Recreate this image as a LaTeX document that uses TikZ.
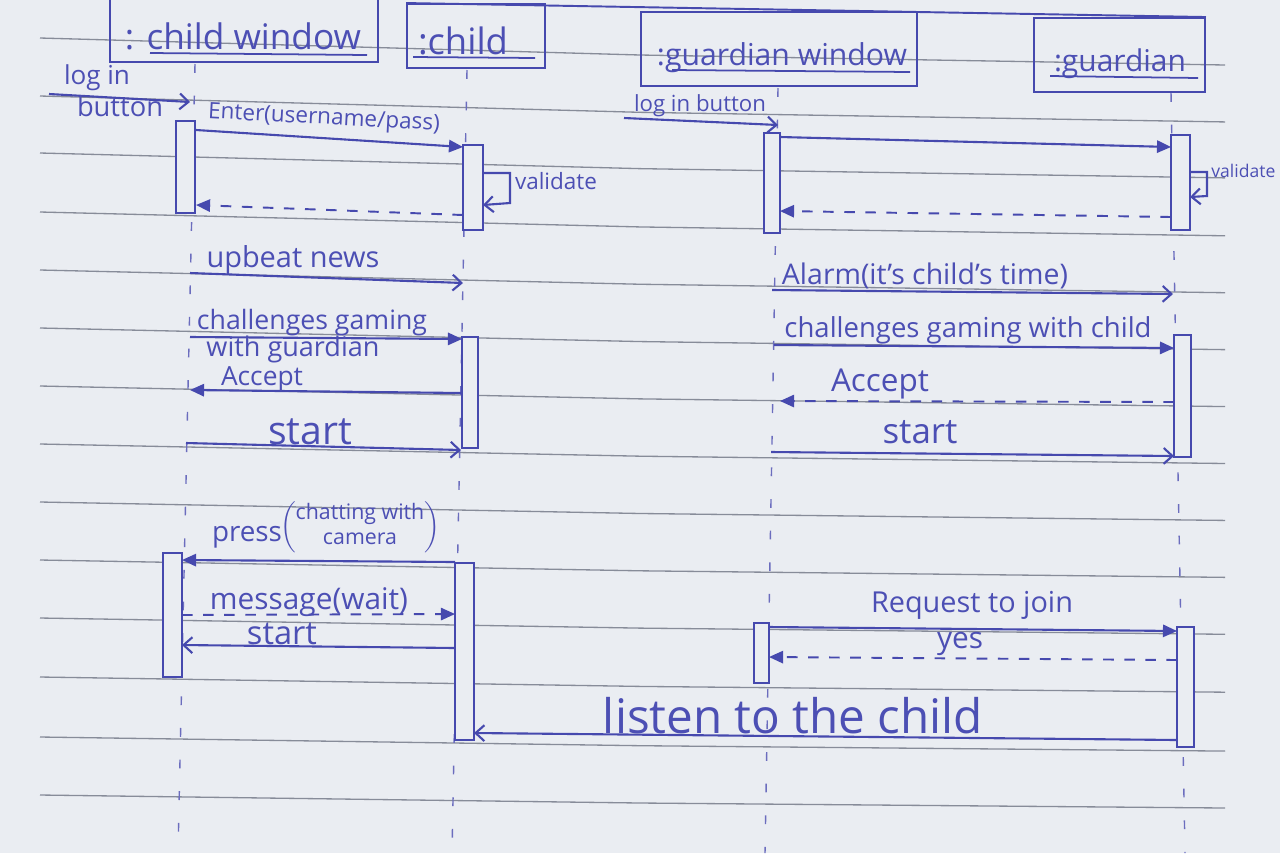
\documentclass[tikz,border=0pt]{standalone}
\usepackage{fontspec}
\setmainfont{Open Sans}
\usepackage{graphicx}
\usetikzlibrary{arrows.meta,fit}
\definecolor{paper}{HTML}{EAEDF2}
\definecolor{ink}{HTML}{4649AE}
\definecolor{inktext}{HTML}{4C4FB4}
\definecolor{ruling}{HTML}{878C99}
% one drawing unit
\newlength\pxu
\setlength\pxu{0.02cm}
% text scaled to a given width in drawing units
\newcommand\wtext[2]{\resizebox{#1\pxu}{!}{#2}}

\begin{document}
\begin{tikzpicture}[x=0.02cm,y=-0.02cm,
  ruled/.style={ruling, line width=0.75pt},
  lifeline/.style={ink!80, line width=0.8pt, dash pattern=on 5pt off 13pt},
  header/.style={draw=ink, line width=1.1pt, inner sep=0pt},
  actbar/.style={draw=ink, fill=paper, line width=1.2pt, inner sep=0pt},
  msg/.style={ink, line width=1.2pt},
  reply/.style={ink, line width=1.1pt, dash pattern=on 6pt off 6pt},
  sync/.style={-{Triangle[length=8pt,width=7pt]}},
  async/.style={-{Straight Barb[length=5pt,width=9pt,line width=1.2pt]}},
  lbl/.style={text=inktext, inner sep=0pt},
]
% paper
\fill[paper] (0,0) rectangle (1280,853);
\useasboundingbox (0,0) rectangle (1280,853);

% ruled lines of the notebook page
\foreach \y in {38,96,153,212,270,328,386,444,502,560,618,677,737,795}{
  \pgfmathsetmacro\t{(\y-38)/757}
  \pgfmathsetmacro\ym{\y+17-9*\t}
  \pgfmathsetmacro\ye{\y+27-14*\t}
  \draw[ruled] (40,\y) -- (640,\ym) -- (1225,\ye);
}

% lifelines
\coordinate (llCWt) at (195,64);  \coordinate (llCWb) at (178,853);
\coordinate (llCt)  at (467,70);  \coordinate (llCb)  at (452,853);
\coordinate (llGWt) at (778,88);  \coordinate (llGWb) at (765,853);
\coordinate (llGt)  at (1171,93); \coordinate (llGb)  at (1185,853);
\draw[lifeline] (llCWt) -- (llCWb);
\draw[lifeline] (llCt) -- (llCb);
\draw[lifeline] (llGWt) -- (llGWb);
\draw[lifeline] (llGt) -- (llGb);

% object headers
\node[header, fit={(110,-10) (378,62)}] (hCW) {};
\node[header, fit={(407,4) (545,68)}] (hC) {};
\node[header, fit={(641,12) (917,86)}] (hGW) {};
\node[header, fit={(1034,18) (1205,92)}] (hG) {};
\draw[msg, line width=1.1pt] (hC.north west) -- (hG.north east);

\node[lbl] (tCW) at (243,36) {\wtext{236}{: child window}};
\node[lbl] (tC)  at (463,41) {\wtext{90}{:child}};
\node[lbl] (tGW) at (782,58) {\wtext{250}{:guardian window}};
\node[lbl] (tG)  at (1120,64) {\wtext{132}{:guardian}};
\draw[msg, line width=1pt] (150,53) -- (367,55);
\draw[msg, line width=1pt] (413,57) -- (535,58);
\draw[msg, line width=1pt] (672,70) -- (910,72);
\draw[msg, line width=1pt] (1050,76) -- (1198,78);

% activation bars
\node[actbar, fit={(176,121) (195,213)}] (aCW1) {};
\node[actbar, fit={(463,145) (483,230)}] (aC1) {};
\node[actbar, fit={(462,337) (478,448)}] (aC2) {};
\node[actbar, fit={(163,553) (182,677)}] (aCW2) {};
\node[actbar, fit={(455,563) (474,740)}] (aC3) {};
\node[actbar, fit={(764,133) (780,233)}] (aGW1) {};
\node[actbar, fit={(1171,135) (1190,230)}] (aG1) {};
\node[actbar, fit={(1174,335) (1191,457)}] (aG2) {};
\node[actbar, fit={(754,623) (769,683)}] (aGW2) {};
\node[actbar, fit={(1177,627) (1194,747)}] (aG3) {};

% ---- child side ----
\coordinate (loginA) at (49,94);   \coordinate (loginB) at (190,102);
\draw[msg, async] (loginA) -- (loginB);
\node[lbl] (lLogin)  at (97,78)  {\wtext{66}{log in}};
\node[lbl] (lButton) at (120,106) {\wtext{86}{button}};

\coordinate (enterA) at (196,130); \coordinate (enterB) at (463,147);
\draw[msg, sync] (enterA) -- (enterB);
\node[lbl, rotate=-3] (lEnter) at (324,119) {\wtext{232}{Enter(username/pass)}};

\coordinate (valA) at (483,173); \coordinate (valB) at (510,173);
\coordinate (valC) at (510,203); \coordinate (valD) at (483,205);
\draw[msg, async] (valA) -- (valB) -- (valC) -- (valD);
\node[lbl] (lVal) at (556,181) {\wtext{82}{validate}};

\coordinate (retA) at (463,215); \coordinate (retB) at (196,205);
\draw[reply, sync] (retA) -- (retB);

\coordinate (newsA) at (190,273); \coordinate (newsB) at (463,283);
\draw[msg, async] (newsA) -- (newsB);
\node[lbl] (lNews) at (293,260) {\wtext{173}{upbeat news}};

\coordinate (chA) at (190,337); \coordinate (chB) at (462,339);
\draw[msg, sync] (chA) -- (chB);
\node[lbl] (lCh1) at (312,323) {\wtext{230}{challenges gaming}};
\node[lbl] (lCh2) at (293,349) {\wtext{173}{with guardian}};

\coordinate (accA) at (462,393); \coordinate (accB) at (190,390);
\draw[msg, sync] (accA) -- (accB);
\node[lbl] (lAcc) at (262,379) {\wtext{82}{Accept}};

\coordinate (stA) at (186,443); \coordinate (stB) at (461,450);
\draw[msg, async] (stA) -- (stB);
\node[lbl] (lSt) at (310,432) {\wtext{84}{start}};

\coordinate (prA) at (455,562); \coordinate (prB) at (182,560);
\draw[msg, sync] (prA) -- (prB);
\node[lbl] (lPress) at (247,537) {\wtext{70}{press}};
\node[lbl] (lPressArg) at (360,527) {\wtext{160}{$\left(\begin{tabular}{@{}c@{}}chatting with\\ camera\end{tabular}\right)$}};

\coordinate (msA) at (182,615); \coordinate (msB) at (455,614);
\draw[reply, sync] (msA) -- (msB);
\node[lbl] (lMsg) at (309,602) {\wtext{198}{message(wait)}};

\coordinate (st2A) at (455,648); \coordinate (st2B) at (182,645);
\draw[msg, async] (st2A) -- (st2B);
\node[lbl] (lSt2) at (282,634) {\wtext{70}{start}};

% ---- guardian side ----
\coordinate (gloginA) at (624,118); \coordinate (gloginB) at (778,125);
\draw[msg, async] (gloginA) -- (gloginB);
\node[lbl] (lGLogin) at (700,106) {\wtext{132}{log in button}};

\coordinate (gcA) at (780,137); \coordinate (gcB) at (1171,147);
\draw[msg, sync] (gcA) -- (gcB);

\coordinate (gvA) at (1190,172); \coordinate (gvB) at (1207,172);
\coordinate (gvC) at (1207,196); \coordinate (gvD) at (1190,197);
\draw[msg, async] (gvA) -- (gvB) -- (gvC) -- (gvD);
\node[lbl, anchor=west] (lGVal) at (1211,171) {\wtext{64}{validate}};

\coordinate (grA) at (1171,217); \coordinate (grB) at (780,211);
\draw[reply, sync] (grA) -- (grB);

\coordinate (alA) at (772,290); \coordinate (alB) at (1173,294);
\draw[msg, async] (alA) -- (alB);
\node[lbl] (lAlarm) at (925,276) {\wtext{286}{Alarm(it's child's time)}};

\coordinate (gchA) at (774,345); \coordinate (gchB) at (1174,348);
\draw[msg, sync] (gchA) -- (gchB);
\node[lbl] (lGCh) at (968,330) {\wtext{367}{challenges gaming with child}};

\coordinate (gacA) at (1174,402); \coordinate (gacB) at (780,401);
\draw[reply, sync] (gacA) -- (gacB);
\node[lbl] (lGAcc) at (880,384) {\wtext{98}{Accept}};

\coordinate (gstA) at (771,452); \coordinate (gstB) at (1174,456);
\draw[msg, async] (gstA) -- (gstB);
\node[lbl] (lGSt) at (920,432) {\wtext{75}{start}};

\coordinate (rqA) at (769,627); \coordinate (rqB) at (1177,631);
\draw[msg, sync] (rqA) -- (rqB);
\node[lbl] (lReq) at (972,605) {\wtext{202}{Request to join}};

\coordinate (yA) at (1177,660); \coordinate (yB) at (769,657);
\draw[reply, sync] (yA) -- (yB);
\node[lbl] (lYes) at (960,644) {\wtext{46}{yes}};

\coordinate (liA) at (1177,740); \coordinate (liB) at (474,733);
\draw[msg, async] (liA) -- (liB);
\node[lbl] (lListen) at (793,716) {\wtext{380}{listen to the child}};
\end{tikzpicture}
\end{document}
